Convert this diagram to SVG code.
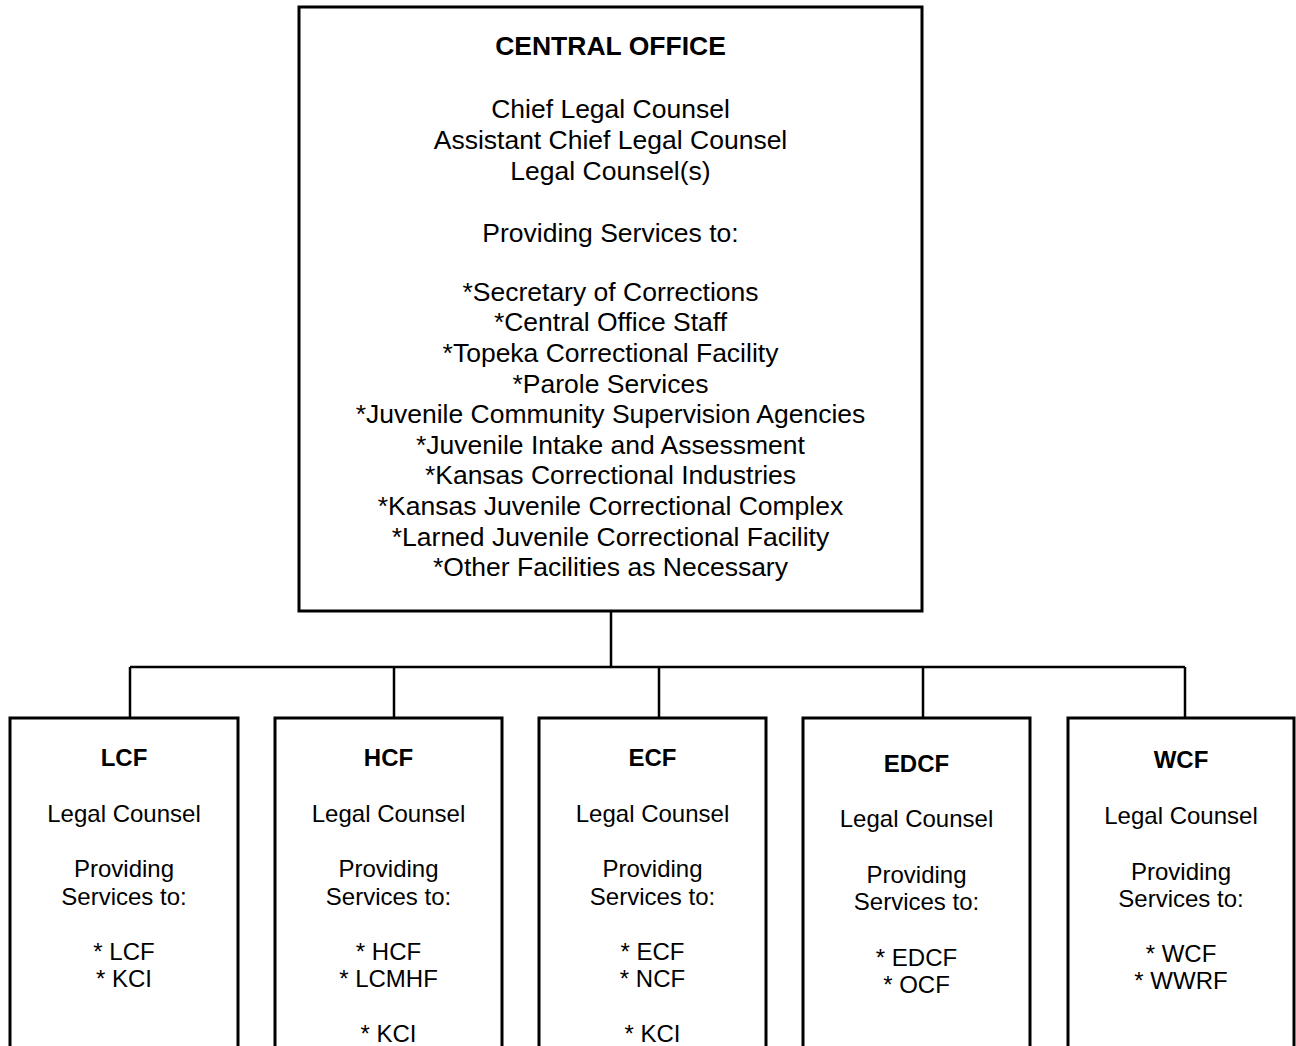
<svg xmlns="http://www.w3.org/2000/svg" width="1296" height="1046" viewBox="0 0 1296 1046">
<style>
.box{fill:#fff;stroke:#000;stroke-width:3}
.conn{fill:none;stroke:#000;stroke-width:2.5}
text{font-family:"Liberation Sans",Arial,sans-serif;fill:#000;text-anchor:middle}
.t{font-size:26.5px}
.tb{font-size:26.5px;font-weight:bold}
.s{font-size:24px}
.sb{font-size:24px;font-weight:bold}
</style>
<rect width="1296" height="1046" fill="#fff"/>
<g id="connectors">
<path class="conn" d="M611 611V667M130 667H1185M130 667V718M394 667V718M659 667V718M923 667V718M1185 667V718"/>
</g>
<g id="central">
<rect class="box" x="299" y="7" width="623" height="604"/>
<text class="tb" x="610.5" y="54.5">CENTRAL OFFICE</text>
<text class="t" x="610.5" y="117.5">Chief Legal Counsel</text>
<text class="t" x="610.5" y="148.5">Assistant Chief Legal Counsel</text>
<text class="t" x="610.5" y="179.5">Legal Counsel(s)</text>
<text class="t" x="610.5" y="241.5">Providing Services to:</text>
<text class="t" x="610.5" y="300.5">*Secretary of Corrections</text>
<text class="t" x="610.5" y="331.2">*Central Office Staff</text>
<text class="t" x="610.5" y="361.8">*Topeka Correctional Facility</text>
<text class="t" x="610.5" y="392.5">*Parole Services</text>
<text class="t" x="610.5" y="423">*Juvenile Community Supervision Agencies</text>
<text class="t" x="610.5" y="453.6">*Juvenile Intake and Assessment</text>
<text class="t" x="610.5" y="484.3">*Kansas Correctional Industries</text>
<text class="t" x="610.5" y="515">*Kansas Juvenile Correctional Complex</text>
<text class="t" x="610.5" y="545.7">*Larned Juvenile Correctional Facility</text>
<text class="t" x="610.5" y="576.4">*Other Facilities as Necessary</text>
</g>
<g id="lcf">
<path class="box" d="M10 1060V718H238V1060"/>
<text class="sb" x="124" y="766">LCF</text>
<text class="s" x="124" y="822">Legal Counsel</text>
<text class="s" x="124" y="877">Providing</text>
<text class="s" x="124" y="905">Services to:</text>
<text class="s" x="124" y="960">* LCF</text>
<text class="s" x="124" y="987">* KCI</text>
</g>
<g id="hcf">
<path class="box" d="M275 1060V718H502V1060"/>
<text class="sb" x="388.5" y="766">HCF</text>
<text class="s" x="388.5" y="822">Legal Counsel</text>
<text class="s" x="388.5" y="877">Providing</text>
<text class="s" x="388.5" y="905">Services to:</text>
<text class="s" x="388.5" y="960">* HCF</text>
<text class="s" x="388.5" y="987">* LCMHF</text>
<text class="s" x="388.5" y="1042">* KCI</text>
</g>
<g id="ecf">
<path class="box" d="M539 1060V718H766V1060"/>
<text class="sb" x="652.5" y="766">ECF</text>
<text class="s" x="652.5" y="822">Legal Counsel</text>
<text class="s" x="652.5" y="877">Providing</text>
<text class="s" x="652.5" y="905">Services to:</text>
<text class="s" x="652.5" y="960">* ECF</text>
<text class="s" x="652.5" y="987">* NCF</text>
<text class="s" x="652.5" y="1042">* KCI</text>
</g>
<g id="edcf">
<path class="box" d="M803 1060V718H1030V1060"/>
<text class="sb" x="916.5" y="772">EDCF</text>
<text class="s" x="916.5" y="827">Legal Counsel</text>
<text class="s" x="916.5" y="883">Providing</text>
<text class="s" x="916.5" y="910">Services to:</text>
<text class="s" x="916.5" y="966">* EDCF</text>
<text class="s" x="916.5" y="993">* OCF</text>
</g>
<g id="wcf">
<path class="box" d="M1068 1060V718H1294V1060"/>
<text class="sb" x="1181" y="768">WCF</text>
<text class="s" x="1181" y="824">Legal Counsel</text>
<text class="s" x="1181" y="880">Providing</text>
<text class="s" x="1181" y="907">Services to:</text>
<text class="s" x="1181" y="962">* WCF</text>
<text class="s" x="1181" y="989">* WWRF</text>
</g>
</svg>
